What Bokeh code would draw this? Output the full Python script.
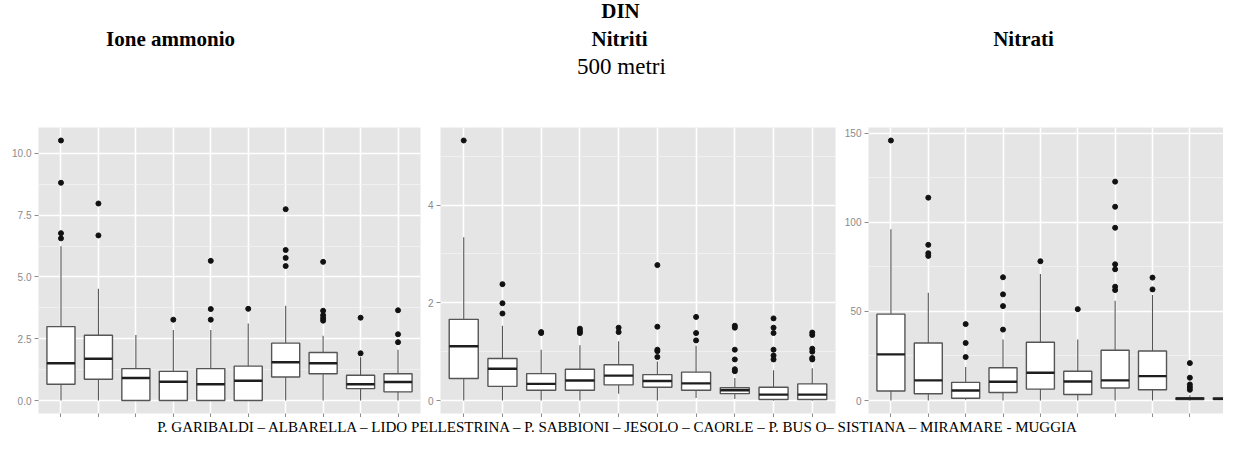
from bokeh.plotting import figure
from bokeh.models import (Range1d, FixedTicker, ColumnDataSource, Label, NumeralTickFormatter,
                          CustomLabelingPolicy)
from bokeh.layouts import column, row
from bokeh.embed import file_html
from bokeh.resources import INLINE

stations = ["P. Garibaldi", "Albarella", "Lido Pellestrina", "P. Sabbioni", "Jesolo",
            "Caorle", "P. Buso", "Sistiana", "Miramare", "Muggia"]

# Ione ammonio
nh4_lo  = [0.0, 0.0, 0.0, 0.0, 0.0, 0.0, 0.0, 0.0, 0.0, 0.0]
nh4_q1  = [0.66, 0.86, 0.0, 0.0, 0.0, 0.0, 0.95, 1.08, 0.48, 0.35]
nh4_med = [1.51, 1.69, 0.91, 0.76, 0.66, 0.80, 1.55, 1.51, 0.66, 0.75]
nh4_q3  = [2.99, 2.64, 1.29, 1.18, 1.29, 1.39, 2.32, 1.94, 1.02, 1.08]
nh4_hi  = [6.24, 4.52, 2.65, 2.85, 2.85, 3.12, 3.83, 2.62, 1.75, 2.05]
nh4_out = [[10.52, 8.81, 6.77, 6.56], [7.97, 6.68], [], [3.27], [5.65, 3.70, 3.27], [3.71],
           [7.74, 6.09, 5.77, 5.44], [5.61, 3.63, 3.45, 3.33, 3.23], [3.35, 1.91], [3.65, 2.68, 2.36]]

# Nitriti
no2_lo  = [0.0, 0.0, 0.0, 0.0, 0.14, 0.0, 0.05, 0.03, 0.0, 0.0]
no2_q1  = [0.45, 0.29, 0.21, 0.21, 0.32, 0.27, 0.21, 0.14, 0.02, 0.02]
no2_med = [1.11, 0.65, 0.34, 0.41, 0.51, 0.40, 0.35, 0.21, 0.12, 0.12]
no2_q3  = [1.66, 0.86, 0.55, 0.64, 0.73, 0.53, 0.58, 0.26, 0.27, 0.34]
no2_hi  = [3.34, 1.53, 1.04, 1.13, 1.21, 0.80, 1.12, 0.46, 0.62, 0.66]
no2_out = [[5.32], [2.38, 1.99, 1.78], [1.40, 1.38], [1.47, 1.42, 1.38], [1.49, 1.40],
           [2.77, 1.51, 1.04, 1.01, 0.89], [1.71, 1.38, 1.23], [1.53, 1.49, 1.04, 0.84, 0.64, 0.60],
           [1.68, 1.49, 1.38, 1.04, 0.92, 0.84], [1.39, 1.34, 1.06, 1.00, 0.87, 0.84]]

# Nitrati
no3_lo  = [0.0, 0.0, 0.4, 0.0, 0.0, 0.0, 0.0, 0.0, 0.0, 0.0]
no3_q1  = [5.3, 3.8, 1.3, 4.5, 6.4, 3.4, 7.0, 6.0, 0.6, 0.6]
no3_med = [25.9, 11.3, 5.6, 10.5, 15.6, 10.7, 11.3, 13.7, 1.1, 1.0]
no3_q3  = [48.5, 32.3, 10.2, 18.4, 32.7, 16.4, 28.2, 27.8, 1.5, 1.5]
no3_hi  = [96.2, 60.5, 18.8, 34.2, 71.0, 34.2, 56.0, 59.2, 3.0, 3.0]
no3_out = [[146.0], [113.9, 87.4, 82.7, 81.2], [42.9, 32.3, 24.4], [69.2, 59.6, 53.0, 39.8], [78.2],
           [51.3], [122.9, 108.8, 97.0, 76.5, 73.7, 63.9, 62.0], [69.0, 62.4],
           [21.0, 12.8, 9.0, 7.5, 6.0], [18.2, 12.4, 6.8, 5.6]]

nh4_ticks, nh4_minor = [0, 2.5, 5, 7.5, 10], [1.25, 3.75, 6.25, 8.75]
no2_ticks, no2_minor = [0, 2, 4], [1, 3, 5]
no3_ticks, no3_minor = [0, 50, 100, 150], [25, 75, 125]

main_title = "DIN"
sub_title = "500 metri"
panel_titles = ["Ione ammonio", "Nitriti", "Nitrati"]
caption = ("P. GARIBALDI \u2013 ALBARELLA \u2013 LIDO  PELLESTRINA \u2013 P. SABBIONI \u2013 JESOLO \u2013 "
           "CAORLE \u2013 P. BUS O\u2013 SISTIANA \u2013 MIRAMARE - MUGGIA")

SERIF = "Liberation Serif"
BOX_W = 0.75
PH = 317

no_labels = CustomLabelingPolicy(code="""
for (const i of Array.from(indices)) { indices.unset(i) }
return indices
""")


def panel(lo, q1, med, q3, hi, out, ticks, minor, fmt, width, bl, br, xend):
    xs = list(range(1, len(stations) + 1))
    allv = lo + hi + [v for o in out for v in o]
    vmin, vmax = min(allv), max(allv)
    pad = 0.05 * (vmax - vmin)
    p = figure(width=width, height=PH, x_range=Range1d(0.4, xend),
               y_range=Range1d(vmin - pad, vmax + pad),
               output_backend="svg", toolbar_location=None,
               min_border_left=bl, min_border_right=br, min_border_top=27, min_border_bottom=4)
    p.background_fill_color = "#E5E5E5"
    p.border_fill_color = "white"
    p.outline_line_color = None

    p.xaxis.ticker = FixedTicker(ticks=xs, minor_ticks=[])
    p.yaxis.ticker = FixedTicker(ticks=ticks, minor_ticks=minor)
    p.yaxis.formatter = NumeralTickFormatter(format=fmt)
    for ax in (p.xaxis, p.yaxis):
        ax.axis_line_color = None
        ax.major_tick_line_color = "#8c8c8c"
        ax.major_tick_out = 4
        ax.major_tick_in = 0
        ax.minor_tick_line_color = None
        ax.major_label_text_color = "#8a8a8a"
        ax.major_label_text_font = "Liberation Sans"
        ax.major_label_text_font_size = "10px"
    p.yaxis.major_label_standoff = 3
    p.xaxis.major_label_policy = no_labels
    p.xaxis.major_label_text_font_size = "0px"
    p.xaxis.major_label_standoff = 0

    p.xgrid.grid_line_color = "white"
    p.xgrid.grid_line_width = 1.6
    p.ygrid.grid_line_color = "white"
    p.ygrid.grid_line_width = 1.6
    p.ygrid.minor_grid_line_color = "#F3F3F3"
    p.ygrid.minor_grid_line_width = 0.8

    src = ColumnDataSource(dict(x=xs, lo=lo, q1=q1, med=med, q3=q3, hi=hi,
                                x0=[x - BOX_W / 2 for x in xs], x1=[x + BOX_W / 2 for x in xs]))
    p.segment(x0="x", x1="x", y0="q3", y1="hi", source=src, line_color="#555555", line_width=1.1)
    p.segment(x0="x", x1="x", y0="lo", y1="q1", source=src, line_color="#555555", line_width=1.1)
    p.vbar(x="x", width=BOX_W, bottom="q1", top="q3", source=src,
           fill_color="white", line_color="#555555", line_width=1.4)
    p.segment(x0="x0", x1="x1", y0="med", y1="med", source=src, line_color="#1e1e1e", line_width=2.4)

    ox = [x for x, o in zip(xs, out) for _ in o]
    oy = [v for o in out for v in o]
    p.scatter(ox, oy, size=5, color="#111111")
    return p


p1 = panel(nh4_lo, nh4_q1, nh4_med, nh4_q3, nh4_hi, nh4_out, nh4_ticks, nh4_minor, "0.0",
           424, 38, 4, 10.6)
p2 = panel(no2_lo, no2_q1, no2_med, no2_q3, no2_hi, no2_out, no2_ticks, no2_minor, "0",
           416, 14, 5, 10.6)
p3 = panel(no3_lo, no3_q1, no3_med, no3_q3, no3_hi, no3_out, no3_ticks, no3_minor, "0",
           383, 28, 0, 9.9)


def blank(width, height):
    f = figure(width=width, height=height, x_range=Range1d(0, 1), y_range=Range1d(0, 1),
               output_backend="svg", toolbar_location=None, min_border=0,
               x_axis_location=None, y_axis_location=None)
    f.outline_line_color = None
    f.grid.visible = False
    return f


tf = blank(1223, 100)
tf.add_layout(Label(x=620, y=90, x_units="screen", y_units="screen", text=main_title,
                    text_align="center", text_baseline="middle", text_font=SERIF,
                    text_font_size="21px", text_font_style="bold", text_color="black"))
for cx, t in zip([170, 619, 1023], panel_titles):
    tf.add_layout(Label(x=cx, y=62, x_units="screen", y_units="screen", text=t,
                        text_align="center", text_baseline="middle", text_font=SERIF,
                        text_font_size="21px", text_font_style="bold", text_color="black"))
tf.add_layout(Label(x=621, y=34, x_units="screen", y_units="screen", text=sub_title,
                    text_align="center", text_baseline="middle", text_font=SERIF,
                    text_font_size="23px", text_color="black"))

cf = blank(1223, 17)
cf.add_layout(Label(x=620, y=8, x_units="screen", y_units="screen", text=caption,
                    text_align="center", text_baseline="middle", text_font=SERIF,
                    text_font_size="15px", text_color="black"))

layout = column(tf, row(p1, p2, p3), cf)
open("out.html", "w").write(file_html(layout, INLINE))
